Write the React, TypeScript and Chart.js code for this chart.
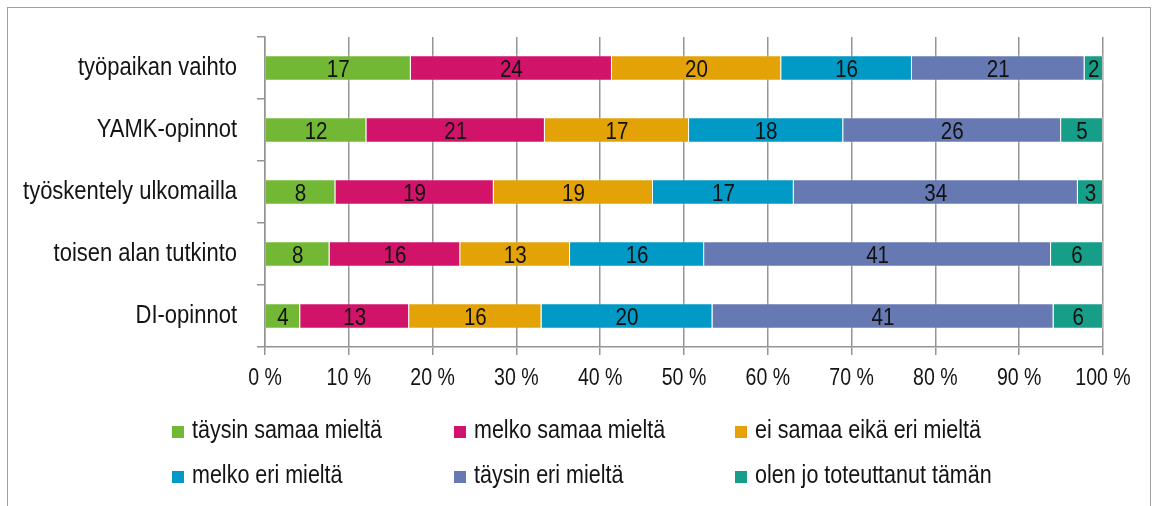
import React, { useEffect, useRef } from "react";
import { Chart, registerables } from "chart.js";

Chart.register(...registerables);

const categories = [
  "työpaikan vaihto",
  "YAMK-opinnot",
  "työskentely ulkomailla",
  "toisen alan tutkinto",
  "DI-opinnot",
];

const seriesNames = [
  "täysin samaa mieltä",
  "melko samaa mieltä",
  "ei samaa eikä eri mieltä",
  "melko eri mieltä",
  "täysin eri mieltä",
  "olen jo toteuttanut tämän",
];

const taysinSamaa = [17.4, 12.1, 8.4, 7.7, 4.2];
const melkoSamaa = [24.0, 21.3, 18.9, 15.6, 13.0];
const eiSamaaEikaEri = [20.2, 17.2, 19.0, 13.1, 15.8];
const melkoEri = [15.6, 18.4, 16.8, 16.0, 20.4];
const taysinEri = [20.6, 26.0, 33.9, 41.4, 40.7];
const toteuttanut = [2.2, 5.0, 3.0, 6.2, 5.9];

const xTicks = [0, 10, 20, 30, 40, 50, 60, 70, 80, 90, 100];

const colors = ["#72b834", "#d1136a", "#e3a307", "#0199c5", "#6679b2", "#179e89"];

const FONT = '"Liberation Sans", Arial, sans-serif';
const CAP = 0.716;

function drawText(
  ctx: CanvasRenderingContext2D,
  text: string,
  x: number,
  y: number,
  align: CanvasTextAlign,
  size: number,
  sx: number,
  color: string
) {
  ctx.save();
  ctx.font = `${size}px ${FONT}`;
  ctx.fillStyle = color;
  ctx.textAlign = align;
  ctx.textBaseline = "alphabetic";
  ctx.translate(x, y);
  ctx.scale(sx, 1);
  ctx.fillText(text, 0, 0);
  ctx.restore();
}

const textPlugin = {
  id: "condensedText",
  afterDatasetsDraw(chart: any) {
    const ctx = chart.ctx;
    const dSize = 24.5;
    chart.data.datasets.forEach((ds: any, di: number) => {
      const meta = chart.getDatasetMeta(di);
      meta.data.forEach((el: any, i: number) => {
        const c = el.getCenterPoint();
        drawText(ctx, String(Math.round(ds.data[i])), c.x, c.y + (CAP * dSize) / 2, "center", dSize, 0.84, "#111111");
      });
    });
  },
  afterDraw(chart: any) {
    const ctx = chart.ctx;
    const area = chart.chartArea;
    const ys = chart.scales.y;
    const ySize = 25;
    ys.ticks.forEach((t: any, i: number) => {
      const py = ys.getPixelForTick(i);
      drawText(ctx, String(chart.data.labels[i]), area.left - 28, py + (CAP * ySize) / 2 - 2, "right", ySize, 0.88, "#141414");
    });
    const xs = chart.scales.x;
    const xSize = 23;
    xs.ticks.forEach((t: any, i: number) => {
      const px = xs.getPixelForTick(i);
      drawText(ctx, `${t.value} %`, px, area.bottom + 38, "center", xSize, 0.85, "#141414");
    });
    const colX = [164, 446, 727];
    const rowBase = [430, 475];
    chart.data.datasets.forEach((ds: any, i: number) => {
      const x = colX[i % 3];
      const base = rowBase[Math.floor(i / 3)];
      ctx.fillStyle = ds.backgroundColor;
      ctx.fillRect(x, base - 12, 12, 12);
      drawText(ctx, ds.label, x + 20, base, "left", 25, 0.86, "#141414");
    });
  },
};

export default function App() {
  const ref = useRef<HTMLCanvasElement | null>(null);

  useEffect(() => {
    if (!ref.current) return;
    const values = [taysinSamaa, melkoSamaa, eiSamaaEikaEri, melkoEri, taysinEri, toteuttanut];
    const chart = new Chart(ref.current, {
      type: "bar",
      data: {
        labels: categories,
        datasets: values.map((d, i) => ({
          label: seriesNames[i],
          data: d,
          backgroundColor: colors[i],
          borderColor: "rgba(255,255,255,0.35)",
          borderWidth: 1,
          barPercentage: 0.41,
          categoryPercentage: 1,
        })),
      },
      options: {
        indexAxis: "y",
        responsive: false,
        animation: false,
        layout: { padding: { top: 29, right: 47, left: 0, bottom: 0 } },
        plugins: {
          legend: { display: false },
          tooltip: { enabled: false },
          title: { display: false },
        },
        scales: {
          x: {
            stacked: true,
            min: 0,
            max: 100,
            afterBuildTicks: (scale: any) => {
              scale.ticks = xTicks.map((v) => ({ value: v }));
            },
            afterFit: (scale: any) => {
              scale.height = 159;
            },
            ticks: { display: false },
            grid: {
              color: "#949494",
              lineWidth: 1.5,
              tickLength: 8,
            },
            border: { color: "#949494", width: 1.5 },
          },
          y: {
            stacked: true,
            afterFit: (scale: any) => {
              scale.width = 257;
            },
            ticks: { display: false },
            grid: {
              drawOnChartArea: false,
              drawTicks: true,
              tickLength: 8,
              color: "#949494",
              lineWidth: 1.5,
            },
            border: { color: "#949494", width: 1.5 },
          },
        },
      },
      plugins: [textPlugin],
    } as any);
    return () => chart.destroy();
  }, []);

  return (
    <div
      style={{
        position: "absolute",
        left: 7,
        top: 7,
        width: 1144,
        height: 499,
        boxSizing: "border-box",
        borderTop: "1px solid #a0a0a0",
        borderLeft: "1px solid #a0a0a0",
        borderRight: "1px solid #a0a0a0",
        background: "#ffffff",
        overflow: "hidden",
      }}
    >
      <canvas ref={ref} width={1142} height={498} style={{ display: "block", width: 1142, height: 498 }} />
    </div>
  );
}
